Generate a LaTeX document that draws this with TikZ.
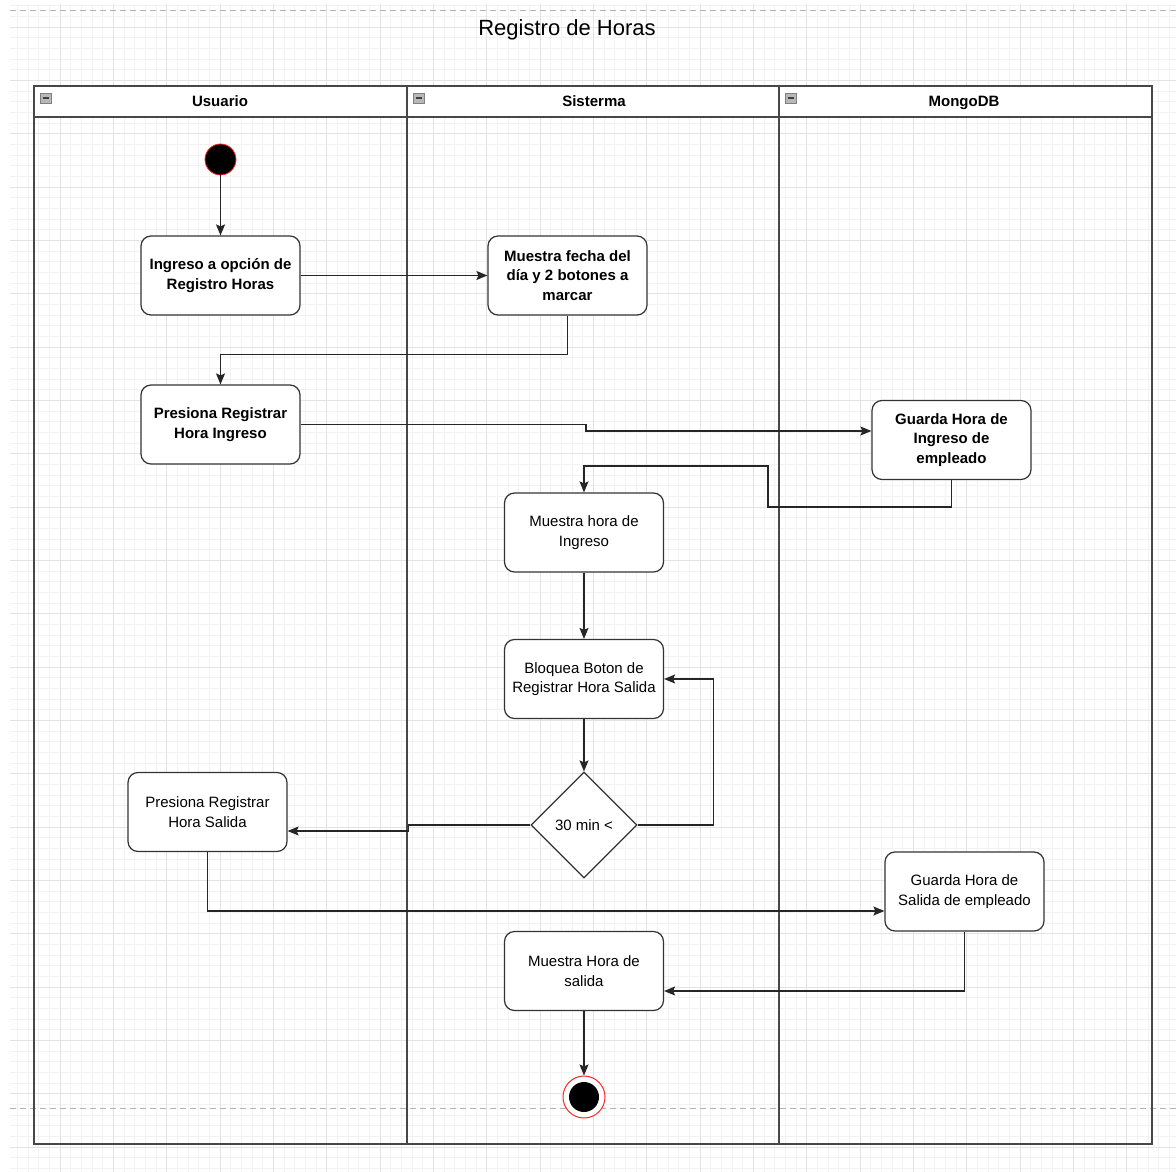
\documentclass[tikz,border=0pt]{standalone}
\usepackage{fontspec}
\setmainfont{Liberation Sans}
\usetikzlibrary{arrows.meta,shapes.geometric,calc}
\begin{document}
\begin{tikzpicture}[x=1pt,y=-1pt,
  gridminor/.style={draw=black!5, line width=0.8pt},
  gridmajor/.style={draw=black!11, line width=0.9pt},
  guide/.style={draw=black!30, line width=0.8pt, dash pattern=on 6pt off 4pt},
  lanerule/.style={draw=black!72, line width=2pt},
  act/.style={draw=black!80, line width=1.2pt, fill=white, rounded corners=10pt,
    minimum width=159pt, minimum height=79pt, align=center, inner sep=2pt,
    font=\fontsize{15}{19.5}\selectfont},
  actb/.style={act, font=\bfseries\fontsize{15}{19.5}\selectfont},
  lanehead/.style={font=\bfseries\fontsize{15}{18}\selectfont, anchor=base},
  flow/.style={draw=black!85, line width=1.3pt, -{Stealth[length=11pt,width=9pt,inset=2pt]}},
]
\useasboundingbox[fill=white] (0,0) rectangle (1176,1172);

% background grid
\begin{scope}
  \clip (10,4) rectangle (1176,1172);
  \foreach \k in {0,...,110} {
    \draw[gridminor] ({6.667+10.6667*\k},4) -- ({6.667+10.6667*\k},1172);
    \draw[gridminor] (10,{5.667+10.6667*\k}) -- (1176,{5.667+10.6667*\k});
  }
  \foreach \k in {1,...,22}
    \draw[gridmajor] ({6.667+53.333*\k},4) -- ({6.667+53.333*\k},1172);
  \foreach \k in {0,...,21}
    \draw[gridmajor] (10,{27+53.333*\k}) -- (1176,{27+53.333*\k});
\end{scope}
\draw[guide] (10,10) -- (1176,10);
\draw[guide] (10,1108) -- (1176,1108);

% title
\node[font=\fontsize{22}{26}\selectfont] (title) at (567,30) {Registro de Horas};

% swimlane pool
\draw[lanerule, fill=white] (34,86) rectangle (1152,117);
\draw[lanerule] (34,86) rectangle (1152,1144);
\draw[lanerule] (407,86) -- (407,1144);
\draw[lanerule] (779,86) -- (779,1144);
\foreach \x in {40,413,785} {
  \draw[draw=black!50, fill=black!28, line width=0.6pt] (\x,93) rectangle ++(11,10);
  \draw[black!75, line width=1.3pt] (\x+2.5,98) -- ++(6,0);
}
\node[lanehead] (hU) at (220,106.5) {Usuario};
\node[lanehead] (hS) at (594,106.5) {Sisterma};
\node[lanehead] (hM) at (964,106.5) {MongoDB};

% activities
\node[circle, fill=black, draw=red!85, line width=0.8pt, minimum size=31pt, inner sep=0pt] (start) at (220.5,159.5) {};
\node[actb] (A) at (220.5,275.5) {Ingreso a opción de\\Registro Horas};
\node[actb] (B) at (567.5,275.5) {Muestra fecha del\\día y 2 botones a\\marcar};
\node[actb] (C) at (220.5,424.5) {Presiona Registrar\\Hora Ingreso};
\node[actb] (D) at (951.5,440) {Guarda Hora de\\Ingreso de\\empleado};
\node[act] (E) at (584,532.5) {Muestra hora de\\Ingreso};
\node[act] (F) at (584,679) {Bloquea Boton de\\Registrar Hora Salida};
\node[diamond, draw=black!80, line width=1.2pt, fill=white, minimum width=106pt,
  minimum height=106pt, inner sep=0pt, font=\fontsize{15}{18}\selectfont] (dec) at (584,825) {30 min <};
\node[act] (G) at (207.5,812) {Presiona Registrar\\Hora Salida};
\node[act] (H) at (964.5,891.5) {Guarda Hora de\\Salida de empleado};
\node[act] (I) at (584,971) {Muestra Hora de\\salida};
\node[circle, draw=red!85, fill=white, line width=1pt, minimum size=42pt, inner sep=0pt] (end) at (584,1097) {};
\fill[black] (end.center) circle (15);

% bend points
\coordinate (j1) at (586,424.5);
\coordinate (j2) at (768,466);

% transitions
\draw[flow] (start) -- (A);
\draw[flow] (A) -- (B);
\draw[flow] (B.south) -- ++(0,39) -| (C.north);
\draw[flow] (C.east) -- (j1) |- ($(D.west)+(0,-9)$);
\draw[flow] (D.south) -- ++(0,27) -| (j2) -| (E.north);
\draw[flow] (E) -- (F);
\draw[flow] (F) -- (dec);
\draw[flow] (dec.east) -- ++(76,0) |- (F.east);
\draw[flow] (dec.west) -- ++(-122,0) |- ($(G.east)+(0,19)$);
\draw[flow] (G.south) |- ($(H.west)+(0,19.5)$);
\draw[flow] (H.south) |- ($(I.east)+(0,20)$);
\draw[flow] (I) -- (end);
\end{tikzpicture}
\end{document}
